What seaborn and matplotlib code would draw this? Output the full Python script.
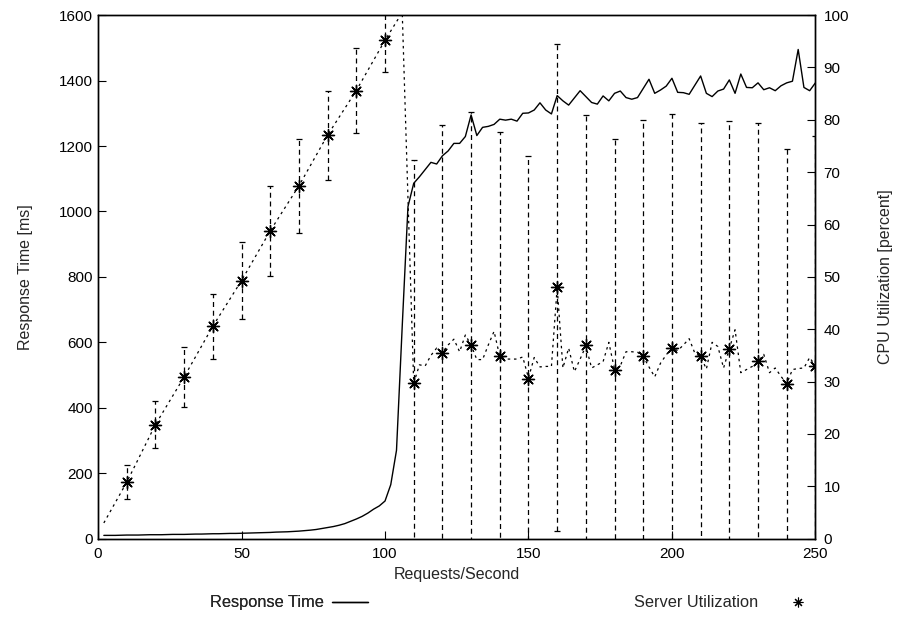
import matplotlib
matplotlib.use('Agg')
import matplotlib.pyplot as plt
from matplotlib.lines import Line2D
import pandas as pd
import seaborn as sns

# response time (left axis), one point every 2 req/s
rt_x = list(range(2, 251, 2))
rt_ms = [10, 10, 10, 10.5, 11, 11, 11, 11.5, 12, 12,
         12, 12.5, 13, 13, 13, 13.5, 14, 14, 14.5, 15,
         15, 15.5, 16, 16, 16.5, 17, 17.5, 18, 18.5, 19,
         20, 20.5, 21, 22, 23, 24.5, 26, 28, 31, 34,
         37, 41, 46, 53, 60, 68, 78, 90, 100, 115,
         165, 270, 650, 1015, 1086, 1106, 1128, 1150, 1145, 1170,
         1185, 1208, 1208, 1229, 1295, 1232, 1257, 1260, 1266, 1282,
         1279, 1282, 1276, 1300, 1301, 1310, 1332, 1310, 1298, 1354,
         1338, 1325, 1347, 1369, 1351, 1333, 1328, 1353, 1338, 1361,
         1368, 1348, 1343, 1348, 1376, 1404, 1361, 1371, 1383, 1407,
         1364, 1363, 1358, 1386, 1414, 1361, 1351, 1368, 1374, 1402,
         1361, 1420, 1379, 1378, 1393, 1372, 1378, 1369, 1384, 1393,
         1398, 1495, 1379, 1369, 1393]

# server utilization (right axis), dotted line
util_x = [2, 10, 20, 30, 40, 50, 60, 70, 80, 90, 100, 106, 108] + list(range(110, 251, 2))
util_pct = [3.0, 10.8, 21.8, 30.9, 40.6, 49.3, 58.8, 67.4, 77.1, 85.6, 95.2, 100.5, 65.0,
            29.7, 33.2, 33.0, 35.0, 36.4, 35.6, 37.0, 38.1, 35.7, 38.9,
            37.0, 34.2, 34.2, 37.0, 39.6, 34.8, 34.3, 34.3, 34.3, 34.7,
            30.7, 34.6, 32.8, 32.9, 32.9, 48.0, 32.6, 36.4, 31.9, 34.3,
            36.8, 32.6, 33.2, 33.8, 37.5, 32.3, 33.0, 35.7, 35.7, 35.6,
            34.8, 32.8, 30.9, 33.5, 35.1, 36.5, 35.9, 37.0, 38.2, 35.4,
            34.8, 32.4, 37.5, 36.7, 32.6, 36.3, 39.9, 31.7, 32.3, 32.9,
            33.8, 35.2, 31.7, 32.6, 31.0, 29.6, 32.3, 32.5, 32.6, 34.6,
            33.0]

# averaged points with error bars
mark_x = list(range(10, 251, 10))
mark_pct = [10.8, 21.8, 30.9, 40.6, 49.3, 58.8, 67.4, 77.1, 85.6, 95.2,
            29.7, 35.4, 37.0, 34.8, 30.5, 48.0, 36.9, 32.3, 34.9, 36.5,
            34.9, 36.3, 34.0, 29.6, 33.0]
mark_err = [3.3, 4.5, 5.8, 6.2, 7.4, 8.6, 9.0, 8.5, 8.2, 6.0,
            42.7, 43.6, 44.4, 42.9, 42.6, 46.5, 44.0, 44.0, 45.1, 44.7,
            44.4, 43.5, 45.4, 44.8, 43.9]

rt = pd.DataFrame({'x': rt_x, 'ms': rt_ms})
util = pd.DataFrame({'x': util_x, 'pct': util_pct})
marks = pd.DataFrame({'x': mark_x, 'pct': mark_pct, 'err': mark_err})

sns.set_style('ticks')
plt.rcParams['font.family'] = ['Liberation Sans', 'DejaVu Sans']
plt.rcParams['font.size'] = 11
plt.rcParams['xtick.direction'] = 'in'
plt.rcParams['ytick.direction'] = 'in'

fig = plt.figure(figsize=(9, 6.3), dpi=100)
ax = fig.add_axes([0.109, 0.145, 0.797, 0.831])
ax2 = ax.twinx()

sns.lineplot(data=rt, x='x', y='ms', ax=ax, color='black', linewidth=1.0, legend=False)

sns.lineplot(data=util, x='x', y='pct', ax=ax2, color='black', linewidth=0.9,
             linestyle=(0, (2, 3)), legend=False)
eb = ax2.errorbar(marks['x'], marks['pct'], yerr=marks['err'], fmt='none',
                  ecolor='black', elinewidth=0.9, capsize=2.5, capthick=0.9)
eb[2][0].set_linestyle((0, (4, 3)))
sns.scatterplot(data=marks, x='x', y='pct', ax=ax2, marker=(8, 2, 0), s=75,
                color='black', edgecolor='black', linewidth=1.0, legend=False, zorder=5)

ax.set_xlim(0, 250)
ax.set_ylim(0, 1600)
ax2.set_ylim(0, 100)
ax.set_xticks(range(0, 251, 50))
ax.set_yticks(range(0, 1601, 200))
ax2.set_yticks(range(0, 101, 10))

ax.set_xlabel('Requests/Second', fontsize=11.5, labelpad=4)
ax.set_ylabel('Response Time [ms]', fontsize=11.5, labelpad=19)
ax2.set_ylabel('CPU Utilization [percent]', fontsize=11.5, labelpad=21)

for a in (ax, ax2):
    for s in a.spines.values():
        s.set_visible(True)
        s.set_linewidth(1.0)
        s.set_color('black')
    a.tick_params(length=6, width=0.8, colors='black', labelsize=11)
ax.tick_params(axis='y', right=False)
ax.tick_params(axis='x', pad=6)
ax2.tick_params(axis='y', pad=6)

h1 = Line2D([], [], color='black', linewidth=1.0)
h2 = Line2D([], [], color='black', linestyle='none', marker=(8, 2, 0), markersize=7, markeredgewidth=0.8)
leg1 = fig.legend([h1], ['Response Time'], loc='center right', bbox_to_anchor=(0.425, 0.043),
                  frameon=False, markerfirst=False, handlelength=2.2, handletextpad=0.5,
                  fontsize=11.8)
fig.legend([h2], ['Server Utilization'], loc='center right', bbox_to_anchor=(0.932, 0.043),
           frameon=False, markerfirst=False, handlelength=3.2, fontsize=11.8)
fig.add_artist(leg1)

fig.savefig('out.png', dpi=100)
